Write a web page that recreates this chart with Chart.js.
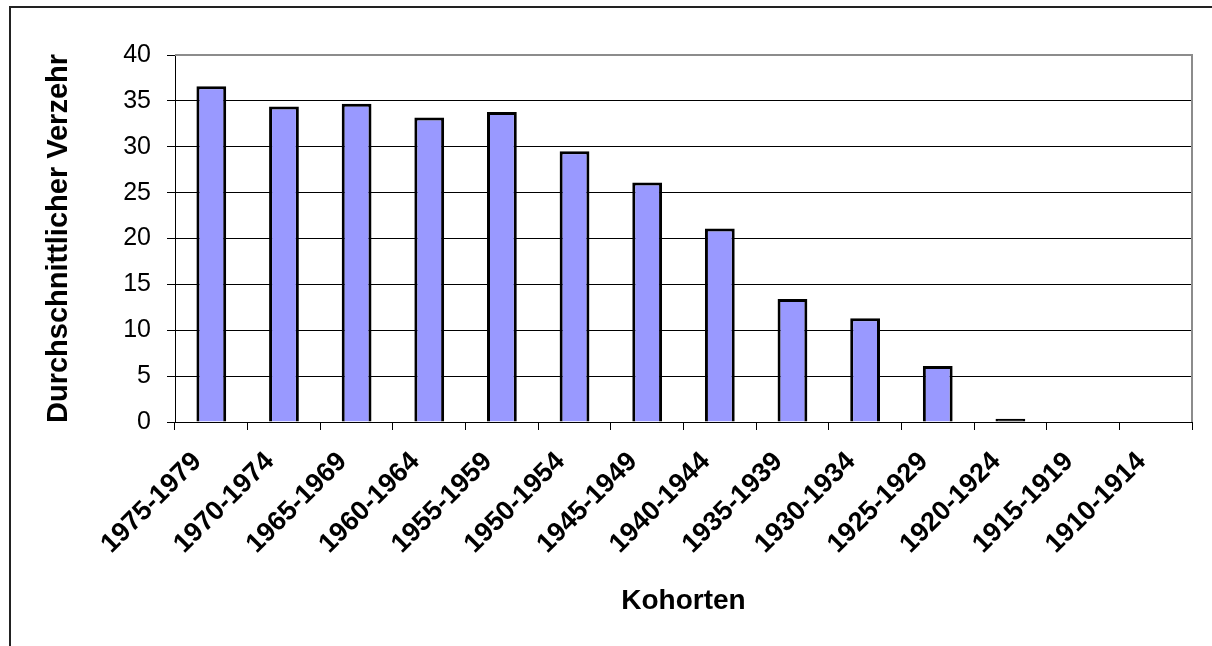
<!DOCTYPE html>
<html>
<head>
<meta charset="utf-8">
<script src="https://cdn.jsdelivr.net/npm/chart.js@4"></script>
<style>
  html, body { margin: 0; padding: 0; background: #fff; }
  #wrap { position: relative; width: 1212px; height: 646px; }
</style>
</head>
<body>
<div id="wrap"><canvas id="chart"></canvas></div>
<script>
// cohorts and average consumption
const cohorts = ['1975-1979', '1970-1974', '1965-1969', '1960-1964', '1955-1959', '1950-1954', '1945-1949',
  '1940-1944', '1935-1939', '1930-1934', '1925-1929', '1920-1924', '1915-1919', '1910-1914'];
const verzehr = [36.6, 34.4, 34.7, 33.2, 33.8, 29.5, 26.1, 21.1, 13.4, 11.3, 6.1, 0.35, 0, 0];
const yTicks = [0, 5, 10, 15, 20, 25, 30, 35, 40];

const FONT = "'Liberation Sans', Arial, sans-serif";

// outer frame + grey plot border (top/right) like the Excel export
const framePlugin = {
  id: 'frame',
  beforeDraw(chart) {
    const ctx = chart.ctx;
    ctx.save();
    ctx.fillStyle = '#fff';
    ctx.fillRect(0, 0, chart.width, chart.height);
    ctx.strokeStyle = '#222';
    ctx.lineWidth = 2;
    ctx.beginPath();
    ctx.moveTo(10, chart.height + 5);
    ctx.lineTo(10, 7);
    ctx.lineTo(chart.width + 5, 7);
    ctx.stroke();
    ctx.restore();
  },
  afterDatasetsDraw(chart) {
    const { ctx, chartArea } = chart;
    ctx.save();
    ctx.strokeStyle = '#8c8c8c';
    ctx.lineWidth = 2;
    ctx.beginPath();
    ctx.moveTo(chartArea.left, chartArea.top);
    ctx.lineTo(chartArea.right, chartArea.top);
    ctx.lineTo(chartArea.right, chartArea.bottom);
    ctx.stroke();
    ctx.restore();
  }
};

new Chart(document.getElementById('chart'), {
  type: 'bar',
  data: {
    labels: cohorts,
    datasets: [{
      data: verzehr,
      // tiny bars show only their outline in the original, so draw them solid black
      backgroundColor: ctx => (ctx.raw < 1 ? '#000' : '#9999ff'),
      borderColor: '#000',
      borderWidth: 3,
      borderSkipped: 'start',
      barPercentage: 0.41,
      categoryPercentage: 1
    }]
  },
  options: {
    responsive: true,
    maintainAspectRatio: false,
    animation: false,
    layout: { padding: { left: 0, right: 20, top: 55, bottom: 0 } },
    plugins: {
      legend: { display: false },
      tooltip: { enabled: false }
    },
    scales: {
      x: {
        grid: { drawOnChartArea: false, color: '#000', tickLength: 8 },
        border: { color: '#000', width: 1 },
        ticks: {
          color: '#000',
          font: { family: FONT, size: 27, weight: 'bold' },
          maxRotation: 45,
          minRotation: 45,
          autoSkip: false,
          padding: 16,
          labelOffset: -14
        },
        title: {
          display: true,
          text: 'Kohorten',
          color: '#000',
          font: { family: FONT, size: 28, weight: 'bold' },
          padding: { top: 4, bottom: 28 }
        },
        afterFit(scale) { scale.height = 224; }
      },
      y: {
        min: 0,
        max: 40,
        afterBuildTicks(scale) { scale.ticks = yTicks.map(v => ({ value: v })); },
        grid: { color: '#000', lineWidth: 1, tickLength: 8 },
        border: { color: '#000', width: 1 },
        ticks: {
          color: '#000',
          font: { family: FONT, size: 25 },
          padding: 16
        },
        title: {
          display: true,
          text: 'Durchschnittlicher Verzehr',
          color: '#000',
          font: { family: FONT, size: 29, weight: 'bold' },
          padding: { top: 42, bottom: 0 }
        },
        afterFit(scale) { scale.width = 175; }
      }
    }
  },
  plugins: [framePlugin]
});
</script>
</body>
</html>
